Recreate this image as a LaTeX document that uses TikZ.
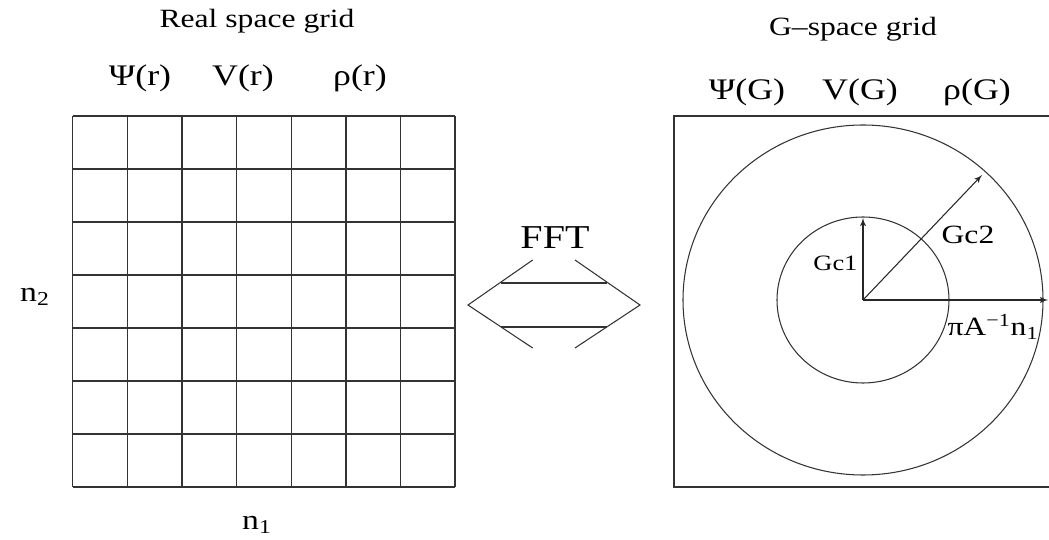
\documentclass[tikz,border=0pt]{standalone}
\usepackage{fontspec}
\setmainfont[FakeStretch=1.2]{Liberation Serif}
\usepackage{tikz}
\usetikzlibrary{arrows,calc,positioning}

\begin{document}
\begin{tikzpicture}[x=0.02cm, y=-0.02cm]
        \tikzstyle{title} = [inner sep=0pt, anchor=base, font=\fontsize{15}{18}\selectfont]
        \tikzstyle{field} = [inner sep=0pt, anchor=base, font=\fontsize{17}{20}\selectfont]
        \tikzstyle{lbl} = [inner sep=0pt, font=\fontsize{15}{18}\selectfont]
        \tikzset{line/.style={draw, line width=0.6pt, color=black!85, -latex'}}
        \tikzset{thin line/.style={draw, line width=0.6pt, color=black!80}}

        \useasboundingbox (0,0) rectangle (1049,540);

        % real space grid
        \foreach \i in {0,...,7}
            \draw [line width=0.8pt, black!80] ({72.7+\i*54.63},116) -- ({72.7+\i*54.63},487);
        \foreach \j in {0,...,7}
            \draw [line width=0.8pt, black!80] (72.7,{116+\j*53}) -- (455,{116+\j*53});

        \node [title] (rtitle) at (257,28) {Real space grid};
        \node [field] (psir) at (140,86) {Ψ(r)};
        \node [field] (vr) at (243,86) {V(r)};
        \node [field] (rhor) at (360,86) {ρ(r)};
        \node [lbl, font=\fontsize{16}{18}\selectfont] (n2) at (35,297) {n\textsubscript{2}};
        \node [lbl, font=\fontsize{16}{18}\selectfont] (n1) at (257,525) {n\textsubscript{1}};

        % FFT double arrow
        \node [lbl, font=\fontsize{19}{22}\selectfont] (fft) at (555,238) {FFT};
        \path [thin line] (532.7,260) -- (468,305) -- (532.7,348);
        \path [thin line] (575,260) -- (640,305) -- (575,348);
        \path [thin line] (500.7,283) -- (606.7,283);
        \path [thin line] (500.7,327) -- (606.7,327);

        % G-space grid
        \draw [line width=0.8pt, black!80] (1049,116) -- (674,116) -- (674,487) -- (1049,487);
        \node [title] (gtitle) at (853,36) {G–space grid};
        \node [field] (psig) at (747,100) {Ψ(G)};
        \node [field] (vg) at (860,100) {V(G)};
        \node [field] (rhog) at (977,100) {ρ(G)};

        \coordinate (G0) at (863,300);
        \coordinate (Gc1end) at (863,218);
        \coordinate (Gc2end) at (982,175);
        \coordinate (Nend) at (1048,300);
        \path [thin line] (G0) ellipse [x radius=86, y radius=83];
        \path [thin line] (G0) ellipse [x radius=180, y radius=175];
        \path [line] (G0) -- (Gc1end);
        \path [line] (G0) -- (Gc2end);
        \path [line] (G0) -- (Nend);

        \node [lbl, font=\fontsize{12.5}{15}\selectfont, left=3pt of $(G0)!0.45!(Gc1end)$] (gc1) {Gc1};
        \node [lbl] (gc2) at (968,235) {Gc2};
        \node [lbl] (pian) at (993,327) {πA\textsuperscript{−1}n\textsubscript{1}};
\end{tikzpicture}
\end{document}
